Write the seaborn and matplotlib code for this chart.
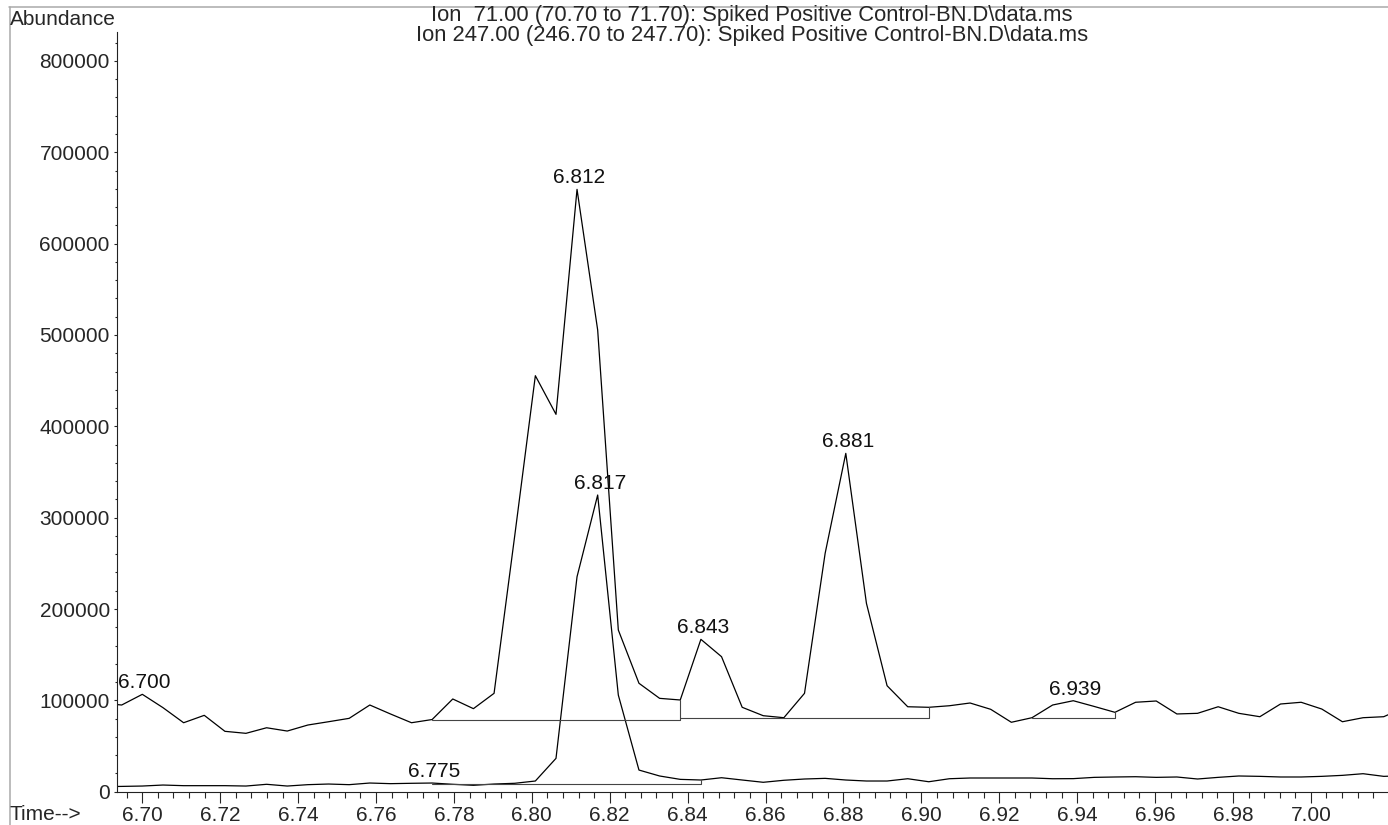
import numpy as np
import pandas as pd
import seaborn as sns
import matplotlib.pyplot as plt
from matplotlib.ticker import MultipleLocator, FuncFormatter
from matplotlib.lines import Line2D

# retention times (min), shared by both ion traces
time = [6.6894, 6.6947, 6.7000, 6.7053, 6.7106, 6.7159, 6.7212, 6.7266, 6.7319, 6.7372,
        6.7425, 6.7478, 6.7531, 6.7584, 6.7637, 6.7691, 6.7744, 6.7797, 6.7850, 6.7903,
        6.7956, 6.8009, 6.8062, 6.8116, 6.8169, 6.8222, 6.8275, 6.8328, 6.8381, 6.8434,
        6.8487, 6.8540, 6.8594, 6.8647, 6.8700, 6.8753, 6.8806, 6.8859, 6.8912, 6.8965,
        6.9019, 6.9072, 6.9125, 6.9178, 6.9231, 6.9284, 6.9337, 6.9390, 6.9444, 6.9497,
        6.9550, 6.9603, 6.9656, 6.9709, 6.9762, 6.9815, 6.9869, 6.9922, 6.9975, 7.0028,
        7.0081, 7.0134, 7.0187, 7.0240]

ion71 = [97000, 94900, 106600, 92000, 75500, 83600, 66100, 63900, 70000, 66400,
         73000, 76600, 80300, 94900, 85100, 75500, 79000, 101500, 90900, 107700,
         280000, 455400, 413100, 659400, 505400, 177000, 118700, 102200, 100400, 166800,
         147800, 92400, 83200, 81000, 107700, 261000, 370400, 206200, 116000, 93000,
         92400, 94100, 97100, 90200, 76000, 81000, 94900, 99600, 93300, 86900,
         97900, 99300, 85100, 85800, 93000, 85800, 82100, 96000, 97900, 90500,
         76600, 81000, 82100, 92000]

ion247 = [5500, 5800, 6200, 7300, 6600, 6600, 6600, 6200, 8100, 6200,
          7700, 8400, 7700, 9500, 8800, 9200, 9500, 8100, 7000, 8400,
          9200, 11700, 36500, 235300, 324800, 105800, 23700, 17200, 13500, 12800,
          15300, 12800, 10300, 12500, 13900, 14600, 12800, 11700, 11700, 14200,
          10900, 14200, 15000, 15000, 15000, 15000, 14200, 14300, 15700, 16100,
          16400, 15700, 16100, 13900, 15700, 17200, 16800, 16100, 16100, 16800,
          17900, 19700, 16800, 17500]

title71 = "Ion  71.00 (70.70 to 71.70): Spiked Positive Control-BN.D\\data.ms"
title247 = "Ion 247.00 (246.70 to 247.70): Spiked Positive Control-BN.D\\data.ms"

# peak labels: text, trace, index of apex in time list
peak_text = ["6.700", "6.812", "6.843", "6.881", "6.939", "6.775", "6.817"]
peak_trace = ["71", "71", "71", "71", "71", "247", "247"]
peak_idx = [2, 23, 29, 36, 47, 16, 24]

# integration baselines: trace, start index, end index, level
base_trace = ["71", "71", "71", "247"]
base_start = [16, 28, 45, 16]
base_end = [28, 40, 49, 29]
base_level = [79000, 80500, 81200, 8400]

traces = {"71": ion71, "247": ion247}
n = len(time)
df = pd.DataFrame({
    "time": time * 2,
    "abundance": ion71 + ion247,
    "ion": ["71"] * n + ["247"] * n,
})

sns.set_style("ticks")
plt.rcParams['font.family'] = ['Liberation Sans', 'DejaVu Sans']
plt.rcParams['font.size'] = 15

W, H = 1388, 825
fig = plt.figure(figsize=(W / 100, H / 100), dpi=100)
ax = fig.add_axes([116.7 / W, 1 - 791.7 / H, (W - 116.7) / W, (791.7 - 31.7) / H])

sns.lineplot(data=df, x="time", y="abundance", hue="ion", units="ion",
             palette={"71": "black", "247": "black"}, estimator=None, sort=False,
             legend=False, lw=0.9, ax=ax)

for tr, s, e, lev in zip(base_trace, base_start, base_end, base_level):
    ax.plot([time[s], time[e], time[e]], [lev, lev, traces[tr][e]],
            color="#444444", lw=0.8)

for txt, tr, i in zip(peak_text, peak_trace, peak_idx):
    ax.annotate(txt, (time[i], traces[tr][i]), xytext=(1.5, 1.5),
                textcoords="offset points", ha="center", va="bottom",
                fontsize=15, color="#111111")

ax.set_xlim(6.69342, 7.0198)
ax.set_ylim(0, 832000)
ax.xaxis.set_major_locator(MultipleLocator(0.02))
ax.xaxis.set_minor_locator(MultipleLocator(0.004))
ax.yaxis.set_major_locator(MultipleLocator(100000))
ax.yaxis.set_minor_locator(MultipleLocator(20000))
ax.xaxis.set_major_formatter(FuncFormatter(lambda v, p: f"{v:.2f}"))
ax.yaxis.set_major_formatter(FuncFormatter(lambda v, p: f"{int(round(v))}"))
ax.tick_params(axis="x", which="major", length=7.7, width=0.8, pad=2.5, labelsize=15)
ax.tick_params(axis="x", which="minor", length=4, width=0.8)
ax.tick_params(axis="y", which="major", length=2.5, width=0.8, pad=2.5, labelsize=15)
ax.tick_params(axis="y", which="minor", length=1.7, width=0.8)
ax.set_xlabel("")
ax.set_ylabel("")
for side in ["top", "right"]:
    ax.spines[side].set_visible(False)
for side in ["left", "bottom"]:
    ax.spines[side].set_linewidth(0.8)
    ax.spines[side].set_color("#222222")

fig.text(10 / W, 1 - 10 / H, "Abundance", ha="left", va="top", fontsize=15)
fig.text(10 / W, 1 - 805 / H, "Time-->", ha="left", va="top", fontsize=15)
fig.text(752 / W, 1 - 5 / H, title71, ha="center", va="top", fontsize=15.8)
fig.text(752 / W, 1 - 25 / H, title247, ha="center", va="top", fontsize=15.8)

# window frame
fig.add_artist(Line2D([9 / W, 1], [1 - 6.5 / H, 1 - 6.5 / H], color="#aaaaaa", lw=1.1))
fig.add_artist(Line2D([9.5 / W, 9.5 / W], [0, 1 - 6.5 / H], color="#aaaaaa", lw=1.1))

fig.savefig("out.png", dpi=100)
